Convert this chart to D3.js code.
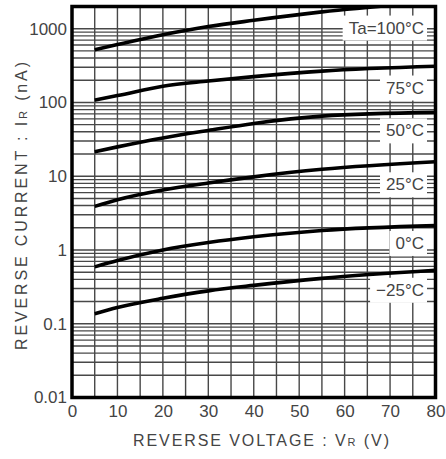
<!DOCTYPE html>
<html>
<head>
<meta charset="utf-8">
<script src="https://cdn.jsdelivr.net/npm/d3@7"></script>
<style>
  body { margin: 0; background: #fff; }
  svg { display: block; font-family: "Liberation Sans", Arial, sans-serif; }
</style>
</head>
<body>
<svg width="446" height="459"></svg>
<script>
// reverse voltage points (V) where the curves were read
var voltages = [5, 10, 20, 30, 40, 55, 80];

// reverse current (nA) per ambient temperature
var ir100 = [520, 610, 828, 1070, 1300, 1690, 2340];
var ir75  = [108, 124, 166, 195, 224, 266, 309];
var ir50  = [21.5, 25, 33, 41.7, 52, 65.3, 73.3];
var ir25  = [3.9, 4.8, 6.5, 8.1, 9.8, 12.4, 15.7];
var ir0   = [0.59, 0.72, 1.0, 1.26, 1.51, 1.84, 2.14];
var irM25 = [0.137, 0.166, 0.221, 0.279, 0.331, 0.412, 0.53];

var series = [ir100, ir75, ir50, ir25, ir0, irM25];
var tempLabels = ["Ta=100°C", "75°C", "50°C", "25°C", "0°C", "\u221225°C"];
var labelAt = [1040, 160, 42, 7.8, 1.25, 0.29];   // current level of each label

var xTicks = [0, 10, 20, 30, 40, 50, 60, 70, 80];
var yTicks = [0.01, 0.1, 1, 10, 100, 1000];

var plotL = 72, plotR = 435.5, plotT = 6.5, plotB = 397.5;

var x = d3.scaleLinear().domain([0, 80]).range([plotL, plotR]);
var y = d3.scaleLog().domain([0.01, 2000]).range([plotB, plotT]);

var svg = d3.select("svg");

// grid: every 5 V, and 1..9 per decade
var gridV = d3.range(5, 80, 5);
var gridH = [];
[0.01, 0.1, 1, 10, 100, 1000].forEach(function(d) {
  for (var k = 1; k <= 9; k++) {
    var v = d * k;
    if (v > 0.01 && v < 2000) gridH.push(v);
  }
});

svg.append("g")
  .selectAll("line")
  .data(gridH)
  .enter().append("line")
  .attr("x1", plotL).attr("x2", plotR)
  .attr("y1", function(d) { return y(d); })
  .attr("y2", function(d) { return y(d); })
  .style("stroke", "#484848")
  .style("stroke-width", 1.4);

svg.append("g")
  .selectAll("line")
  .data(gridV)
  .enter().append("line")
  .attr("x1", function(d) { return x(d); })
  .attr("x2", function(d) { return x(d); })
  .attr("y1", plotT).attr("y2", plotB)
  .style("stroke", "#484848")
  .style("stroke-width", 1.4);

// curves
svg.append("clipPath").attr("id", "plot")
  .append("rect")
  .attr("x", plotL).attr("y", plotT)
  .attr("width", plotR - plotL).attr("height", plotB - plotT);

var line = d3.line()
  .x(function(d) { return x(d[0]); })
  .y(function(d) { return y(d[1]); })
  .curve(d3.curveMonotoneX);

svg.append("g")
  .attr("clip-path", "url(#plot)")
  .selectAll("path")
  .data(series)
  .enter().append("path")
  .attr("d", function(s) { return line(voltages.map(function(v, i) { return [v, s[i]]; })); })
  .style("fill", "none")
  .style("stroke", "#000")
  .style("stroke-width", 3.6);

// temperature labels with white background
var lab = svg.append("g")
  .selectAll("g")
  .data(tempLabels)
  .enter().append("g");

lab.append("text")
  .attr("x", 424)
  .attr("y", function(d, i) { return y(labelAt[i]); })
  .attr("dy", "0.36em")
  .attr("text-anchor", "end")
  .style("font-size", "17px")
  .style("fill", "#444")
  .text(function(d) { return d; });

lab.each(function() {
  var g = d3.select(this);
  var b = g.select("text").node().getBBox();
  g.insert("rect", "text")
    .attr("x", b.x - 6).attr("y", b.y - 3)
    .attr("width", b.width + 9).attr("height", b.height + 6)
    .style("fill", "#fff");
});

// frame
svg.append("rect")
  .attr("x", plotL).attr("y", plotT)
  .attr("width", plotR - plotL).attr("height", plotB - plotT)
  .style("fill", "none")
  .style("stroke", "#000")
  .style("stroke-width", 3.5);

// axes
var fmt = function(d) { return d >= 1 ? d3.format("d")(d) : String(d); };

var yAxis = svg.append("g")
  .attr("transform", "translate(" + (plotL - 1) + ",0)")
  .call(d3.axisLeft(y).tickValues(yTicks).tickFormat(fmt).tickSize(0).tickPadding(4));

var xAxis = svg.append("g")
  .attr("transform", "translate(0," + (plotB + 2) + ")")
  .call(d3.axisBottom(x).tickValues(xTicks).tickFormat(d3.format("d")).tickSize(0).tickPadding(5));

[xAxis, yAxis].forEach(function(a) {
  a.select(".domain").remove();
  a.selectAll("text")
    .style("font-size", "17px")
    .style("fill", "#444")
    .style("font-family", "'Liberation Sans', Arial, sans-serif");
});

// axis titles
var xt = svg.append("text")
  .attr("x", 261)
  .attr("y", 446)
  .attr("text-anchor", "middle")
  .attr("textLength", 256)
  .attr("lengthAdjust", "spacing")
  .style("font-size", "16px")
  .style("fill", "#444");
xt.append("tspan").text("REVERSE  VOLTAGE : V");
xt.append("tspan").style("font-size", "11px").text("R");
xt.append("tspan").text("  (V)");

var yt = svg.append("text")
  .attr("transform", "translate(27,206) rotate(-90)")
  .attr("text-anchor", "middle")
  .attr("textLength", 288)
  .attr("lengthAdjust", "spacing")
  .style("font-size", "16px")
  .style("fill", "#444");
yt.append("tspan").text("REVERSE  CURRENT : I");
yt.append("tspan").style("font-size", "11px").text("R");
yt.append("tspan").text("  (nA)");
</script>
</body>
</html>
